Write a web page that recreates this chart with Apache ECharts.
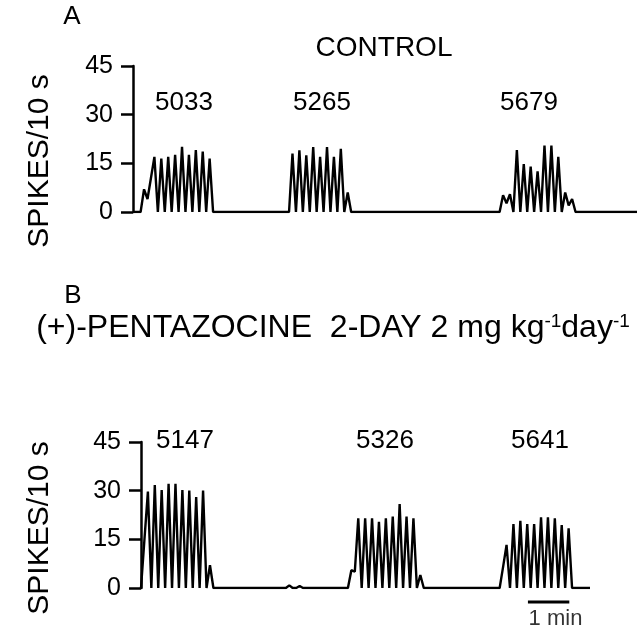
<!DOCTYPE html>
<html><head><meta charset="utf-8">
<script src="https://cdn.jsdelivr.net/npm/echarts@6/dist/echarts.min.js"></script>
<style>html,body{margin:0;padding:0;background:#fff}#c{width:640px;height:630px}</style>
</head><body><div id="c"></div>
<script>
// ---- data (time in s, spikes per 10 s) ----
const STEP = 5;                 // seconds between samples in a burst
const yTicks = [0, 15, 30, 45];
const spanA = 730;              // panel A time span (s)
const spanB = 651;              // panel B time span (s)

const startsA = [11, 226, 531];
const burstA1 = [0, 7, 4, 10.5, 17.0, 0, 16.5, 0, 17.0, 0, 17.6, 0, 20.1, 0, 17.6, 0, 19.1, 0, 18.6, 0, 16.5, 0];
const burstA2 = [0, 18, 0, 19, 0, 17.5, 0, 20, 0, 17, 0, 20, 0, 17, 0, 19.5, 0, 6, 0];
const burstA3 = [0, 5.2, 2.7, 5.5, 0, 19.1, 0, 14.8, 0, 14.0, 0, 12.5, 0, 20.5, 0, 20.5, 0, 17.0, 0, 6, 2, 4, 0];

const startsB = [0, 210, 300, 520];
const burstB1 = [0, 15, 29.7, 0, 31.7, 0, 30.2, 0, 32.1, 0, 32.1, 0, 30.2, 0, 30.0, 0, 28.0, 0, 30.0, 0, 7, 0];
const burstB0 = [0, 0.8, 0, 0, 0.6, 0];
const burstB2 = [0, 5.5, 5, 21.5, 0, 21.5, 0, 21.5, 0, 20.4, 0, 21.5, 0, 22.0, 0, 25.9, 0, 22.0, 0, 21.5, 0, 4, 0];
const burstB3 = [0, 6.5, 13.3, 0, 19.7, 0, 20.7, 0, 19.7, 0, 19.7, 0, 21.8, 0, 21.8, 0, 21.5, 0, 19.4, 0, 18.4, 0];

const cellIdsA = ['5033', '5265', '5679'];
const cellIdsB = ['5147', '5326', '5641'];
const scaleBar = [561, 621];    // 1 min
const scaleBarLabel = '1 min';

// ---- build ----
function trace(starts, bursts, span) {
  const pts = [[0, 0]];
  bursts.forEach((b, k) => b.forEach((v, i) => pts.push([starts[k] + i * STEP, v])));
  pts.push([span, 0]);
  return pts;
}
const dataA = trace(startsA, [burstA1, burstA2, burstA3], spanA);
const dataB = trace(startsB, [burstB1, burstB0, burstB2, burstB3], spanB);

const FONT = 'Liberation Sans, Arial, Helvetica, sans-serif';
const black = '#000';

function yAx(gi) {
  return {
    gridIndex: gi, type: 'value', min: 0, max: 45, interval: 15,
    axisLine: {show: true, lineStyle: {color: black, width: 2.5}},
    axisTick: {show: true, inside: false, length: 12, lineStyle: {color: black, width: 2.5}},
    axisLabel: {color: black, fontSize: 25, fontFamily: FONT, margin: 20},
    splitLine: {show: false}
  };
}
function xAx(gi, span) {
  return {gridIndex: gi, type: 'value', min: 0, max: span, show: false};
}
const lineStyle = {color: black, width: 2.4};

function txt(x, y, text, size, extra) {
  return Object.assign({type: 'text', x: x, y: y, style: {text: text, fontSize: size, fontFamily: FONT, fill: black, align: 'center', verticalAlign: 'middle'}}, extra || {});
}

const idPosA = [[184, 103], [322, 103], [529, 103]];
const idPosB = [[185, 441], [385, 441], [540, 441]];

const graphics = [
  txt(72, 17, 'A', 26),
  txt(384, 48, 'CONTROL', 28),
  txt(73, 296, 'B', 26),
  txt(40, 161, 'SPIKES/10 s', 30, {rotation: Math.PI / 2}),
  txt(40, 528, 'SPIKES/10 s', 30, {rotation: Math.PI / 2}),
  {type: 'text', x: 333, y: 328, style: {
    text: '{n|(+)-PENTAZOCINE  2-DAY 2 mg kg}{s|-1}{n|day}{s|-1}',
    align: 'center', verticalAlign: 'middle', fill: black,
    rich: {
      n: {fontSize: 32, fontFamily: FONT, fill: black, verticalAlign: 'bottom'},
      s: {fontSize: 19, fontFamily: FONT, fill: black, verticalAlign: 'top', padding: [0, 0, 13, 0]}
    }
  }}
];
cellIdsA.forEach((s, i) => graphics.push(txt(idPosA[i][0], idPosA[i][1], s, 26)));
cellIdsB.forEach((s, i) => graphics.push(txt(idPosB[i][0], idPosB[i][1], s, 26)));

const chart = echarts.init(document.getElementById('c'), null, {renderer: 'canvas'});
chart.setOption({
  animation: false,
  backgroundColor: '#fff',
  grid: [
    {left: 133, top: 66, width: 504, height: 146},
    {left: 141, top: 442, width: 449, height: 146}
  ],
  xAxis: [xAx(0, spanA), xAx(1, spanB)],
  yAxis: [yAx(0), yAx(1)],
  series: [
    {type: 'line', xAxisIndex: 0, yAxisIndex: 0, data: dataA, showSymbol: false, lineStyle: lineStyle, silent: true},
    {type: 'line', xAxisIndex: 1, yAxisIndex: 1, data: dataB, showSymbol: false, lineStyle: lineStyle, silent: true},
    {type: 'line', xAxisIndex: 1, yAxisIndex: 1, clip: false, showSymbol: false, silent: true,
     data: [[scaleBar[0], -4.3], [scaleBar[1], -4.3]], lineStyle: {color: black, width: 3}},
    {type: 'scatter', xAxisIndex: 1, yAxisIndex: 1, clip: false, symbolSize: 0, silent: true,
     data: [[(scaleBar[0] + scaleBar[1]) / 2 + 10, -9.5]],
     label: {show: true, position: 'inside', formatter: scaleBarLabel, color: black, fontSize: 22, fontFamily: FONT}}
  ],
  graphic: graphics
});
</script></body></html>
